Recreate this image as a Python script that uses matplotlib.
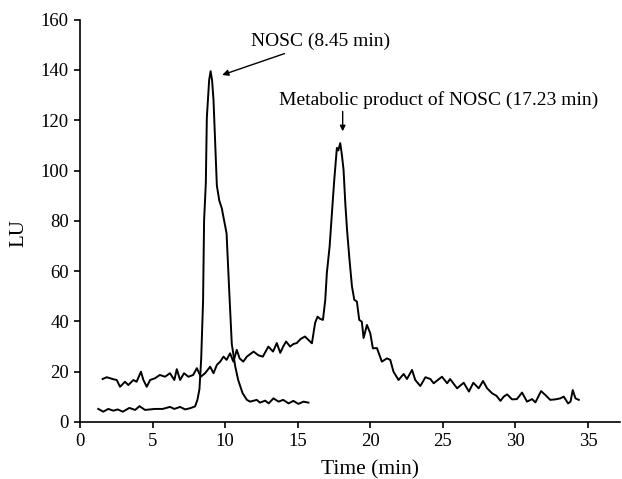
import numpy as np
import matplotlib.pyplot as plt

plt.rcParams['font.family'] = ['Liberation Serif', 'DejaVu Serif']

# NOSC trace (lower baseline, sharp peak at ~9 min)
nosc_t = [1.26, 1.6, 1.95, 2.3, 2.6, 2.95, 3.4, 3.8, 4.1, 4.48, 4.83, 5.17, 5.7,
          6.2, 6.5, 6.9, 7.24, 7.6, 7.93, 8.09, 8.23, 8.35, 8.48, 8.55, 8.67,
          8.74, 8.9, 9.0, 9.1, 9.2, 9.43, 9.6, 9.77, 10.1, 10.3, 10.46, 10.7,
          10.9, 11.2, 11.5, 11.72, 12.18, 12.4, 12.76, 13.0, 13.33, 13.68,
          14.0, 14.37, 14.7, 15.05, 15.4, 15.74]
nosc_lu = [5.2, 4.1, 5.2, 4.5, 5.0, 4.1, 5.6, 4.8, 6.3, 4.8, 5.0, 5.2, 5.2,
           6.0, 5.2, 6.0, 5.0, 5.5, 6.2, 8.8, 13.0, 25.0, 48.0, 80.0, 95.0,
           121.0, 136.0, 139.5, 136.0, 128.0, 94.0, 88.0, 85.0, 75.0, 50.0,
           31.0, 22.0, 16.7, 11.5, 8.8, 8.1, 8.8, 7.7, 8.5, 7.4, 9.4, 8.1,
           8.8, 7.4, 8.4, 7.2, 8.1, 7.7]

# metabolic product trace (peak at ~17.9 min)
met_t = [1.56, 1.84, 2.3, 2.53, 2.76, 3.1, 3.33, 3.68, 3.9, 4.2, 4.37, 4.6,
         4.83, 5.17, 5.5, 5.86, 6.2, 6.5, 6.67, 6.9, 7.17, 7.47, 7.8, 8.05,
         8.32, 8.62, 8.97, 9.2, 9.43, 9.66, 9.89, 10.1, 10.34, 10.57, 10.8,
         11.0, 11.25, 11.5, 11.96, 12.3, 12.6, 12.98, 13.3, 13.56, 13.8, 14.0,
         14.2, 14.48, 14.7, 14.94, 15.2, 15.5, 15.98, 16.2, 16.37, 16.55,
         16.74, 16.9, 17.01, 17.2, 17.36, 17.52, 17.7, 17.8, 17.93, 18.05,
         18.16, 18.28, 18.4, 18.57, 18.74, 18.9, 19.08, 19.24, 19.42, 19.54,
         19.77, 20.0, 20.18, 20.46, 20.8, 21.15, 21.38, 21.6, 21.95, 22.3,
         22.53, 22.88, 23.1, 23.45, 23.8, 24.14, 24.37, 24.94, 25.3, 25.5,
         25.98, 26.44, 26.8, 27.1, 27.47, 27.77, 28.05, 28.4, 28.7, 28.97,
         29.2, 29.43, 29.77, 30.1, 30.46, 30.8, 31.15, 31.38, 31.77, 32.07,
         32.4, 32.76, 33.1, 33.33, 33.63, 33.8, 33.95, 34.14, 34.37]
met_lu = [17.1, 17.8, 17.0, 16.7, 14.0, 16.0, 14.7, 16.7, 16.0, 20.0, 16.7,
          14.0, 16.7, 17.4, 18.7, 18.0, 19.4, 16.7, 21.0, 16.7, 19.4, 18.0,
          18.7, 21.4, 18.0, 19.4, 22.0, 19.4, 22.7, 24.0, 26.0, 24.7, 27.3,
          24.0, 28.7, 25.3, 24.0, 26.0, 28.0, 26.5, 26.0, 30.0, 28.0, 31.4,
          27.5, 30.0, 32.0, 30.0, 31.0, 31.4, 33.0, 34.0, 31.3, 39.4, 41.9,
          41.0, 40.6, 48.6, 59.3, 69.8, 83.2, 96.3, 109.0, 108.0, 110.9, 106.0,
          100.3, 87.0, 76.4, 64.5, 53.9, 48.6, 47.9, 40.6, 39.9, 33.4, 38.6,
          35.3, 29.3, 29.4, 24.0, 25.3, 24.7, 20.0, 16.7, 19.1, 17.1, 20.7,
          16.7, 14.3, 17.8, 17.1, 15.4, 18.0, 15.4, 17.1, 13.4, 15.6, 12.1,
          15.6, 13.4, 16.3, 13.4, 11.4, 10.4, 8.4, 10.1, 11.0, 9.0, 9.1, 11.7,
          8.1, 9.1, 7.8, 12.3, 10.7, 8.8, 9.0, 9.4, 10.1, 7.4, 8.1, 12.7, 9.4,
          8.8]

fig = plt.figure(figsize=(6.22, 4.79), dpi=100)
ax = fig.add_axes([0.1286, 0.119, 0.868, 0.840])

ax.plot(nosc_t, nosc_lu, color='black', lw=1.4)
ax.plot(met_t, met_lu, color='black', lw=1.4)

ax.annotate('NOSC (8.45 min)', xy=(9.8, 138), xytext=(11.77, 151.4),
            fontsize=14, va='center', ha='left',
            arrowprops=dict(arrowstyle='-|>', color='black', lw=1,
                            mutation_scale=9, shrinkA=2, shrinkB=0))
ax.annotate('Metabolic product of NOSC (17.23 min)', xy=(18.1, 115.6),
            xytext=(13.7, 128.2), fontsize=14, va='center', ha='left')
ax.annotate('', xy=(18.1, 115.6), xytext=(18.1, 123.5),
            arrowprops=dict(arrowstyle='-|>', color='black', lw=1,
                            mutation_scale=8, shrinkA=0, shrinkB=0))

ax.set_xlim(0, 37.2)
ax.set_ylim(0, 160)
ax.set_xticks(np.arange(0, 36, 5))
ax.set_yticks(np.arange(0, 161, 20))
ax.spines['top'].set_visible(False)
ax.spines['right'].set_visible(False)
for s in ('left', 'bottom'):
    ax.spines[s].set_linewidth(1.2)
ax.tick_params(direction='out', length=4.5, width=1.2, labelsize=13.5)
ax.set_xlabel('Time (min)', fontsize=15.5)
ax.set_ylabel('LU', fontsize=15)
ax.xaxis.set_label_coords(0.537, -0.095)
ax.yaxis.set_label_coords(-0.096, 0.47)

plt.savefig('out.png', dpi=100)
